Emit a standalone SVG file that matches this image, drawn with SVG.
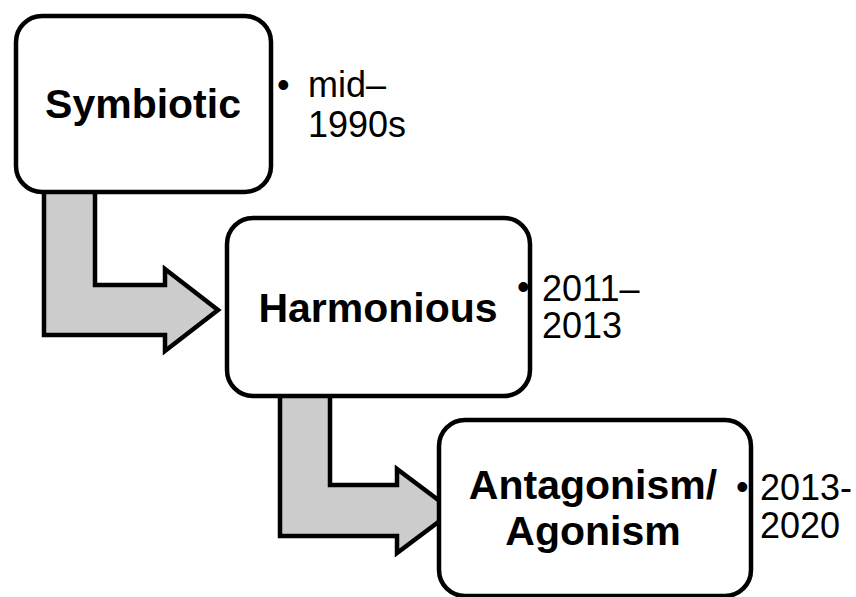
<svg xmlns="http://www.w3.org/2000/svg" width="856" height="597" viewBox="0 0 856 597">
  <style>
    .box { fill: #ffffff; stroke: #000000; stroke-width: 4.5; }
    .arrow { fill: #cccccc; stroke: #000000; stroke-width: 4.5; stroke-linejoin: miter; }
    .label { font-family: "Liberation Sans", Arial, sans-serif; font-weight: bold; font-size: 41px; fill: #000000; text-anchor: middle; }
    .date { font-family: "Liberation Sans", Arial, sans-serif; font-size: 36px; fill: #000000; }
  </style>
  <rect width="856" height="597" fill="#ffffff"/>

  <!-- Bent block arrows between stages -->
  <g id="connectors">
    <polygon class="arrow" points="44,190 95,190 95,285 165,285 165,269 218,310 165,351 165,335 44,335"/>
    <polygon class="arrow" points="280,395 330,395 330,485 397,485 397,469 453,511 397,553 397,536 280,536"/>
  </g>

  <g id="symbiotic">
    <rect class="box" x="16" y="16" width="255" height="176" rx="26" ry="26"/>
    <text class="label" x="143" y="118">Symbiotic</text>
    <text class="date" x="277" y="97">•</text>
    <text class="date" x="308" y="97">mid–</text>
    <text class="date" x="308" y="137">1990s</text>
  </g>

  <g id="harmonious">
    <rect class="box" x="227" y="218" width="303" height="178" rx="26" ry="26"/>
    <text class="label" x="378" y="322">Harmonious</text>
    <text class="date" x="517" y="299">•</text>
    <text class="date" x="542" y="301">2011–</text>
    <text class="date" x="542" y="338">2013</text>
  </g>

  <g id="antagonism">
    <rect class="box" x="439" y="420" width="312" height="176" rx="26" ry="26"/>
    <text class="label" x="593" y="499">Antagonism/</text>
    <text class="label" x="593" y="545">Agonism</text>
    <text class="date" x="736" y="499">•</text>
    <text class="date" x="760" y="500">2013-</text>
    <text class="date" x="760" y="538">2020</text>
  </g>
</svg>
